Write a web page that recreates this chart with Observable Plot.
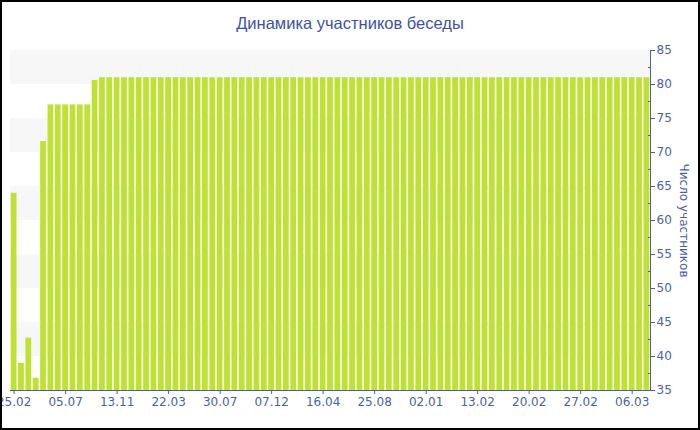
<!DOCTYPE html>
<html>
<head>
<meta charset="utf-8">
<script src="https://cdn.jsdelivr.net/npm/d3@7"></script>
<script src="https://cdn.jsdelivr.net/npm/@observablehq/plot@0.6"></script>
<style>
  html, body { margin: 0; padding: 0; background: #fff; }
  #wrap { width: 700px; height: 430px; box-sizing: border-box; border: 2px solid #000; background: #fff; overflow: hidden; }
  #title { height: 38px; line-height: 42px; text-align: center; font-family: "Liberation Sans", Arial, sans-serif; font-size: 16.5px; color: #4053a3; }
</style>
</head>
<body>
<div id="wrap">
  <div id="title">Динамика участников беседы</div>
  <div id="chart"></div>
</div>
<script>
// Tick labels shown every 7th bar
const tickLabels = ["25.02","05.07","13.11","22.03","30.07","07.12","16.04","25.08","02.01","13.02","20.02","27.02","06.03"];
const tickStep = 7;

// Participant counts, one per bar (87 bars)
const values = [
  64, 39, 42.7, 36.8, 71.6,
  77, 77, 77, 77, 77, 77,
  80.6,
  81, 81, 81, 81, 81, 81, 81, 81, 81, 81,
  81, 81, 81, 81, 81, 81, 81, 81, 81, 81,
  81, 81, 81, 81, 81, 81, 81, 81, 81, 81,
  81, 81, 81, 81, 81, 81, 81, 81, 81, 81,
  81, 81, 81, 81, 81, 81, 81, 81, 81, 81,
  81, 81, 81, 81, 81, 81, 81, 81, 81, 81,
  81, 81, 81, 81, 81, 81, 81, 81, 81, 81,
  81, 81, 81, 81, 81
];

// Alternating background bands
const bandLows = [80, 70, 60, 50, 40];
const bandSize = 5;

const yTicks = [35, 40, 45, 50, 55, 60, 65, 70, 75, 80, 85];
const yMinor = [37.5, 42.5, 47.5, 52.5, 57.5, 62.5, 67.5, 72.5, 77.5, 82.5];

const categories = values.map((v, i) => i);
const data = values.map((v, i) => ({i, v}));
const bands = bandLows.map(lo => ({y1: lo, y2: lo + bandSize}));

const axisColor = "#4b5fa8";
const barColor = "#bee233";

const chart = Plot.plot({
  width: 696,
  height: 388,
  marginTop: 10,
  marginBottom: 38,
  marginLeft: 8,
  marginRight: 48,
  style: { fontFamily: "DejaVu Sans, Verdana, sans-serif", fontSize: "12px", color: axisColor, background: "transparent" },
  x: { type: "band", domain: categories, paddingInner: 0.22, paddingOuter: 0.1 },
  y: { domain: [35, 85] },
  marks: [
    Plot.rect(bands, { y1: "y1", y2: "y2", fill: "#f7f7f7" }),
    Plot.barY(data, { x: "i", y1: 35, y2: "v", fill: barColor }),
    Plot.ruleY([35], { stroke: axisColor, strokeWidth: 1 }),
    Plot.frame({ anchor: "right", stroke: axisColor }),
    Plot.axisX({
      ticks: categories.filter(i => i % tickStep === 0),
      tickFormat: i => tickLabels[i / tickStep],
      tickSize: 4, tickPadding: 3, stroke: axisColor, fill: axisColor, label: null
    }),
    Plot.axisY({ anchor: "right", ticks: yTicks, tickSize: 4, tickPadding: 2, stroke: axisColor, fill: axisColor, label: null }),
    Plot.axisY({ anchor: "right", ticks: yMinor, tickSize: -3, text: null, stroke: axisColor, label: null }),
    Plot.text(["Число участников"], { frameAnchor: "right", textAnchor: "middle", dx: 33, rotate: 90, fill: axisColor, fontSize: 12 })
  ]
});
document.getElementById("chart").appendChild(chart);
</script>
</body>
</html>
